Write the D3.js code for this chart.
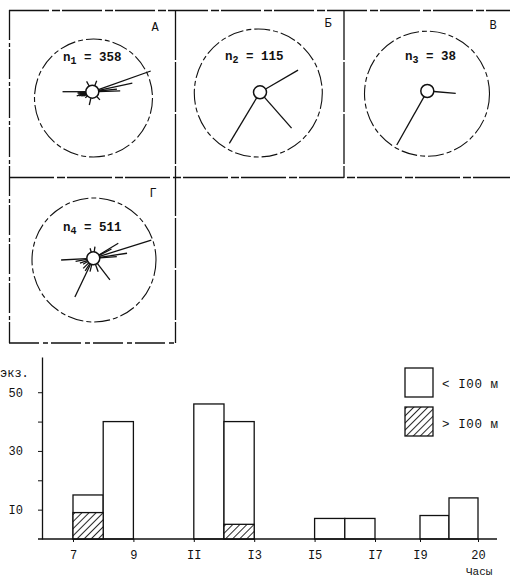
<!DOCTYPE html>
<html><head><meta charset="utf-8">
<script src="https://cdn.jsdelivr.net/npm/d3@7"></script>
<style>
body{margin:0;background:#fff}
text{font-family:"Liberation Mono","DejaVu Sans Mono",monospace;fill:#111}
</style>
</head><body>
<svg id="c" width="510" height="581"></svg>
<script>
// ---------- DATA ----------
const panelLetters = ["А", "Б", "В", "Г"];
const panelSub = ["1", "2", "3", "4"];
const panelN = [358, 115, 38, 511];
// rays: [bearing in degrees (0 = up, clockwise), relative length in % of ring]
const raysA = [[70.5,100],[78,66],[88.5,45],[84,40],[270,48],[243,16],[248,19],[252,22],[255,26],[258,21],[260,23],[263,20],[265,24],[192.7,22],[331,19],[22,19],[137,18],[229,15]];
const raysB = [[59.8,71],[211,96],[138.6,77]];
const raysV = [[94.6,46],[209.5,100]];
const raysG = [[72.6,98],[59,47],[63,33],[81.5,55],[86,38],[142.4,44],[205.5,69],[267,52],[260,29],[250,23],[240,19],[194,22],[160,23],[342,17],[8,19],[225,23],[213,24]];

const binStart = [7, 8, 11, 12, 15, 16, 19, 19.5];
const binEnd   = [8, 9, 12, 13, 16, 17, 19.5, 20];
const totalCnt = [15, 40, 46, 40, 7, 7, 8, 14];      // all, < 100 m + > 100 m
const farCnt   = [9, 0, 0, 5, 0, 0, 0, 0];           // > 100 m (hatched)
const xTicks = [7, 9, 11, 13, 15, 17, 19, 20];
const xTickLabels = ["7", "9", "II", "I3", "I5", "I7", "I9", "20"];
const yTicks = [10, 20, 30, 40, 50];
const yTickLabels = {10: "I0", 30: "30", 50: "50"};
const legendLabels = ["< I00 м", "> I00 м"];
const yUnit = "экз.";
const xUnit = "Часы";

// ---------- DRAW ----------
const svg = d3.select("#c");
const ink = "#111";

// hatch pattern
const defs = svg.append("defs");
const pat = defs.append("pattern").attr("id","hatch").attr("patternUnits","userSpaceOnUse")
  .attr("width",5).attr("height",5).attr("patternTransform","rotate(45)");
pat.append("rect").attr("width",5).attr("height",5).attr("fill","#fff");
pat.append("line").attr("x1",0).attr("y1",0).attr("x2",0).attr("y2",5)
  .attr("stroke",ink).attr("stroke-width",1.8);

// panel frame lines
const frame = svg.append("g").attr("stroke",ink).attr("stroke-width",1.3).attr("fill","none");
const fl = [
  [9,10.5,510,10.5,"40,3,8,2"],
  [9.5,10,9.5,343,"30,3,4,2"],
  [175.5,10,175.5,343,"50,2"],
  [344,10,344,178,"50,2"],
  [9,177.5,510,177.5,"45,3,8,2"],
  [9,343,175,343,"30,4,5,3"]
];
fl.forEach(d => frame.append("line").attr("x1",d[0]).attr("y1",d[1]).attr("x2",d[2]).attr("y2",d[3]).attr("stroke-dasharray",d[4]));

const panels = [
  {rays: raysA, hub:[92.3,91.7], ring:[93.5,98], R:59, letter:[155,31], label:[63,61]},
  {rays: raysB, hub:[260,92.3],  ring:[258.3,93], R:64, letter:[328,27], label:[225,60]},
  {rays: raysV, hub:[427.3,91],  ring:[427,93.7], R:62.5, letter:[493,29], label:[405,60]},
  {rays: raysG, hub:[93.3,258.3],ring:[94,260],  R:62, letter:[153,197], label:[63,231]}
];
const rScale = d3.scaleLinear().domain([0,100]).range([0,62]);
const hubR = 6.5;

panels.forEach((p,i) => {
  const g = svg.append("g");
  g.append("circle").attr("cx",p.ring[0]).attr("cy",p.ring[1]).attr("r",p.R)
    .attr("fill","none").attr("stroke",ink).attr("stroke-width",1.1).attr("stroke-dasharray","16,3,5,3");
  const hub = g.append("g").attr("transform",`translate(${p.hub[0]},${p.hub[1]})`);
  const line = d3.lineRadial().angle(d=>d[0]).radius(d=>d[1]);
  hub.selectAll("path.ray").data(p.rays).join("path").attr("class","ray")
    .attr("d", d => line([[d[0]*Math.PI/180, hubR],[d[0]*Math.PI/180, rScale(d[1])]]))
    .attr("stroke",ink).attr("stroke-width",1.3).attr("fill","none");
  hub.append("circle").attr("r",hubR).attr("fill","#fff").attr("stroke",ink).attr("stroke-width",1.5);
  g.append("text").attr("x",p.letter[0]).attr("y",p.letter[1]).attr("font-size",12)
    .attr("text-anchor","middle").text(panelLetters[i]);
  const t = g.append("text").attr("x",p.label[0]).attr("y",p.label[1]).attr("font-size",12.5).attr("font-weight","bold");
  t.append("tspan").text("n");
  t.append("tspan").attr("dy",3).attr("font-size",10).text(panelSub[i]);
  t.append("tspan").attr("dy",-3).text(" = " + panelN[i]);
});

// ---------- BAR CHART ----------
const x = d3.scaleLinear().domain([7,17,19,20]).range([73,375,420,478]);
const y = d3.scaleLinear().domain([0,62]).range([539,357]);
const bars = svg.append("g");
const bins = binStart.map((s,i)=>({s, e:binEnd[i], t:totalCnt[i], f:farCnt[i]}));
bars.selectAll("rect.tot").data(bins).join("rect").attr("class","tot")
  .attr("x",d=>x(d.s)).attr("width",d=>x(d.e)-x(d.s))
  .attr("y",d=>y(d.t)).attr("height",d=>y(0)-y(d.t))
  .attr("fill","#fff").attr("stroke",ink).attr("stroke-width",1.3);
bars.selectAll("rect.far").data(bins.filter(d=>d.f>0)).join("rect").attr("class","far")
  .attr("x",d=>x(d.s)).attr("width",d=>x(d.e)-x(d.s))
  .attr("y",d=>y(d.f)).attr("height",d=>y(0)-y(d.f))
  .attr("fill","url(#hatch)").attr("stroke",ink).attr("stroke-width",1.3);

// baseline
svg.append("line").attr("x1",38).attr("x2",497).attr("y1",y(0)).attr("y2",y(0))
  .attr("stroke",ink).attr("stroke-width",1.5);

const xAxis = svg.append("g").attr("transform",`translate(0,${y(0)})`)
  .call(d3.axisBottom(x).tickValues(xTicks).tickFormat((d,i)=>xTickLabels[i]).tickSize(3).tickPadding(8));
xAxis.select(".domain").remove();
xAxis.selectAll("text").attr("font-size",12).attr("font-family","Liberation Mono");
xAxis.selectAll("line").attr("stroke",ink);

const yAxis = svg.append("g").attr("transform","translate(42,0)")
  .call(d3.axisLeft(y).tickValues(yTicks).tickFormat(d=>yTickLabels[d]||"").tickSize(4).tickPadding(15).tickSizeOuter(0));
yAxis.select(".domain").attr("stroke",ink).attr("stroke-width",1.3);
yAxis.selectAll("text").attr("font-size",12).attr("font-family","Liberation Mono");
yAxis.selectAll("line").attr("stroke",ink);

svg.append("text").attr("x",0).attr("y",377).attr("font-size",12).text(yUnit);
svg.append("text").attr("x",466).attr("y",575).attr("font-size",11).text(xUnit);

// legend
const lg = svg.append("g");
const lgFill = ["#fff","url(#hatch)"];
legendLabels.forEach((l,i)=>{
  lg.append("rect").attr("x",405).attr("y",368+i*39).attr("width",28).attr("height",29)
    .attr("fill",lgFill[i]).attr("stroke",ink).attr("stroke-width",1.3);
  lg.append("text").attr("x",442).attr("y",388+i*40).attr("font-size",12.5)
    .attr("letter-spacing",0.6).text(l);
});
</script>
</body></html>
